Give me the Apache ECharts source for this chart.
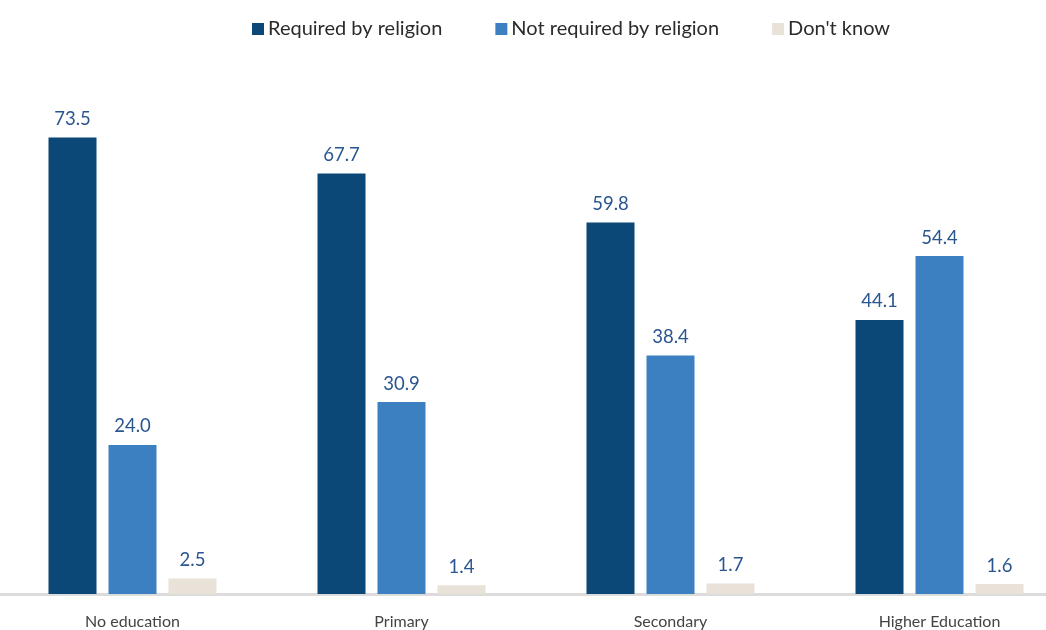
<!DOCTYPE html>
<html>
<head>
<meta charset="utf-8">
<script src="https://cdn.jsdelivr.net/npm/echarts@6/dist/echarts.min.js"></script>
<style>
html,body{margin:0;padding:0;background:#fff;overflow:hidden;width:1046px;height:630px;}
#chart{width:1076px;height:630px;margin-left:-2px;}
</style>
</head>
<body>
<div id="chart"></div>
<script>
var categories = ['No education', 'Primary', 'Secondary', 'Higher Education'];
var seriesNames = ['Required by religion', 'Not required by religion', "Don't know"];
var required = [73.5, 67.7, 59.8, 44.1];
var notRequired = [24.0, 30.9, 38.4, 54.4];
var dontKnow = [2.5, 1.4, 1.7, 1.6];
var colors = ['#0b4878', '#3d80c2', '#e8e2d8'];

var chart = echarts.init(document.getElementById('chart'));
var labelCfg = {
  show: true,
  position: 'top',
  distance: 9,
  color: '#2a5690',
  fontSize: 18.5,
  fontFamily: 'Lato, "Open Sans", sans-serif',
  formatter: function (p) { return p.value.toFixed(1); }
};
function mk(name, data, color) {
  return {
    name: name,
    type: 'bar',
    data: data,
    barWidth: 48,
    barGap: '25%',
    itemStyle: { color: color },
    label: labelCfg
  };
}
chart.setOption({
  animation: false,
  color: colors,
  legend: {
    top: 14,
    left: 249,
    itemWidth: 12,
    itemHeight: 12,
    itemGap: 53,
    icon: 'rect',
    textStyle: { fontSize: 20, color: '#2b2b2b', fontFamily: 'Lato, "Open Sans", sans-serif', padding: [0, 0, 0, -1] },
    data: seriesNames
  },
  grid: { left: 0, right: 0, top: 97, bottom: 35, containLabel: false },
  xAxis: {
    type: 'category',
    data: categories,
    axisLine: { show: true, lineStyle: { color: '#dcdcdc', width: 3 } },
    axisTick: { show: false },
    axisLabel: { color: '#444', fontSize: 16, margin: 20, fontFamily: 'Lato, "Open Sans", sans-serif' }
  },
  yAxis: {
    type: 'value',
    min: 0,
    max: 80,
    show: false,
    splitLine: { show: false }
  },
  series: [
    mk(seriesNames[0], required, colors[0]),
    mk(seriesNames[1], notRequired, colors[1]),
    mk(seriesNames[2], dontKnow, colors[2])
  ]
});
</script>
</body>
</html>
